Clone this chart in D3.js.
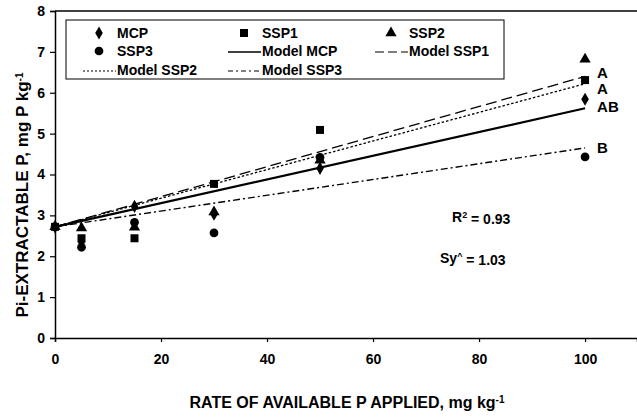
<!DOCTYPE html>
<html>
<head>
<meta charset="utf-8">
<script src="https://cdn.jsdelivr.net/npm/d3@7"></script>
<style>
  body { margin: 0; background: #fff; }
  text { font-family: "Liberation Sans", Arial, sans-serif; font-weight: bold; fill: #000; }
</style>
</head>
<body>
<script>
// rates of available P applied, mg/kg
var rates = [0, 5, 15, 30, 50, 100];
var mcp  = [2.72, 2.35, 3.22, 3.03, 4.15, 5.84];
var ssp1 = [2.72, 2.44, 2.44, 3.77, 5.09, 6.31];
var ssp2 = [2.72, 2.69, 2.71, 3.08, 4.35, 6.82];
var ssp3 = [2.72, 2.22, 2.83, 2.57, 4.42, 4.43];

// fitted model lines, value at rate 0 and rate 100
var modelX = [0, 100];
var modelMCP  = [2.72, 5.62];
var modelSSP1 = [2.72, 6.40];
var modelSSP2 = [2.72, 6.22];
var modelSSP3 = [2.72, 4.65];

var letters = ["A", "A", "AB", "B"];
var letterY = [6.5, 6.1, 5.65, 4.65];

var yTicks = [0, 1, 2, 3, 4, 5, 6, 7, 8];
var xTicks = [0, 20, 40, 60, 80, 100];

var w = 637;
var h = 417;

var svg = d3.select("body")
  .append("svg")
  .attr("width", w)
  .attr("height", h);

var x = d3.scaleLinear().domain([0, 109.8]).range([55, 637]);
var y = d3.scaleLinear().domain([0, 8]).range([338, 11]);

// axes
var xAxis = d3.axisBottom(x).tickValues(xTicks).tickSize(4).tickPadding(12);
var yAxis = d3.axisLeft(y).tickValues(yTicks).tickSize(5).tickPadding(5);

var gx = svg.append("g")
  .attr("transform", "translate(0," + y(0) + ")")
  .call(xAxis);
var gy = svg.append("g")
  .attr("transform", "translate(" + x(0) + ",0)")
  .call(yAxis);

[gx, gy].forEach(function(g) {
  g.select(".domain").attr("stroke", "#000").attr("stroke-width", 1.5);
  g.selectAll(".tick line").attr("stroke", "#000").attr("stroke-width", 1.2);
  g.selectAll(".tick text")
    .style("font-family", "'Liberation Sans', Arial, sans-serif")
    .style("font-weight", "bold")
    .style("font-size", "14px")
    .attr("fill", "#000");
});

// top border
svg.append("line")
  .attr("x1", x(0)).attr("x2", w)
  .attr("y1", y(8)).attr("y2", y(8))
  .attr("stroke", "#000").attr("stroke-width", 1.5);

// model lines
var models = [
  { vals: modelMCP,  dash: null,         width: 2.2 },
  { vals: modelSSP1, dash: "11,5",       width: 1.3 },
  { vals: modelSSP2, dash: "2.5,2",      width: 1.3 },
  { vals: modelSSP3, dash: "7,3,2,3",    width: 1.4 }
];

var line = d3.line()
  .x(function(d) { return x(d[0]); })
  .y(function(d) { return y(d[1]); });

models.forEach(function(m) {
  svg.append("path")
    .attr("d", line(modelX.map(function(v, i) { return [v, m.vals[i]]; })))
    .attr("fill", "none")
    .attr("stroke", "#000")
    .attr("stroke-width", m.width)
    .attr("stroke-dasharray", m.dash);
});

// markers
var series = [
  { vals: ssp3, sym: d3.symbolCircle,   size: 60 },
  { vals: ssp1, sym: d3.symbolSquare,   size: 64 },
  { vals: ssp2, sym: d3.symbolTriangle, size: 55 },
  { vals: mcp,  sym: d3.symbolDiamond,  size: 50 }
];

series.forEach(function(s) {
  svg.append("g")
    .selectAll("path")
    .data(rates)
    .enter()
    .append("path")
    .attr("transform", function(d, i) {
      return "translate(" + x(d) + "," + y(s.vals[i]) + ")";
    })
    .attr("d", d3.symbol().type(s.sym).size(s.size))
    .attr("fill", "#000");
});

// significance letters
svg.selectAll(".letter")
  .data(letters)
  .enter()
  .append("text")
  .attr("x", x(100) + 12)
  .attr("y", function(d, i) { return y(letterY[i]); })
  .attr("dy", "0.35em")
  .style("font-size", "15px")
  .text(function(d) { return d; });

// stats
var r2 = svg.append("text")
  .attr("x", 452).attr("y", 217)
  .attr("dy", "0.35em")
  .style("font-size", "14px");
r2.append("tspan").text("R");
r2.append("tspan").attr("dy", "-0.4em").style("font-size", "9px").text("2");
r2.append("tspan").attr("dy", "0.4em").text(" = 0.93");

var sy = svg.append("text")
  .attr("x", 440).attr("y", 258)
  .attr("dy", "0.35em")
  .style("font-size", "14px");
sy.append("tspan").text("Sy");
sy.append("tspan").attr("dy", "-0.45em").style("font-size", "9px").text("^");
sy.append("tspan").attr("dy", "0.45em").text(" = 1.03");

// legend
svg.append("rect")
  .attr("x", 66).attr("y", 20)
  .attr("width", 438).attr("height", 59)
  .attr("fill", "#fff")
  .attr("stroke", "#000")
  .attr("stroke-width", 1);

var legend = [
  { name: "MCP",        col: 0, row: 0, sym: d3.symbolDiamond,  size: 50 },
  { name: "SSP1",       col: 1, row: 0, sym: d3.symbolSquare,   size: 64 },
  { name: "SSP2",       col: 2, row: 0, sym: d3.symbolTriangle, size: 55 },
  { name: "SSP3",       col: 0, row: 1, sym: d3.symbolCircle,   size: 60 },
  { name: "Model MCP",  col: 1, row: 1, dash: null,      width: 1.4 },
  { name: "Model SSP1", col: 2, row: 1, dash: "9,4",     width: 1.2 },
  { name: "Model SSP2", col: 0, row: 2, dash: "2,2",     width: 1.2 },
  { name: "Model SSP3", col: 1, row: 2, dash: "5,3,2,3", width: 1.2 }
];
var colText = [117, 262, 409];
var rowY = [33, 51, 70];

legend.forEach(function(d) {
  var tx = colText[d.col];
  var ty = rowY[d.row];
  if (d.sym) {
    svg.append("path")
      .attr("transform", "translate(" + (tx - 18) + "," + ty + ")")
      .attr("d", d3.symbol().type(d.sym).size(d.size))
      .attr("fill", "#000");
  } else {
    svg.append("line")
      .attr("x1", tx - 34).attr("x2", tx - 1)
      .attr("y1", ty + 1).attr("y2", ty + 1)
      .attr("stroke", "#000")
      .attr("stroke-width", d.width)
      .attr("stroke-dasharray", d.dash);
  }
  svg.append("text")
    .attr("x", tx).attr("y", ty)
    .attr("dy", "0.35em")
    .style("font-size", "14px")
    .text(d.name);
});

// axis titles
var xt = svg.append("text")
  .attr("x", 347).attr("y", 408)
  .attr("text-anchor", "middle")
  .style("font-size", "16px");
xt.append("tspan").text("RATE OF AVAILABLE P APPLIED, mg kg");
xt.append("tspan").attr("dy", "-0.5em").style("font-size", "10px").text("-1");

var yt = svg.append("text")
  .attr("transform", "translate(28,195) rotate(-90)")
  .attr("text-anchor", "middle")
  .style("font-size", "17px");
yt.append("tspan").text("Pi-EXTRACTABLE P, mg P kg");
yt.append("tspan").attr("dy", "-0.5em").style("font-size", "10px").text("-1");
</script>
</body>
</html>
